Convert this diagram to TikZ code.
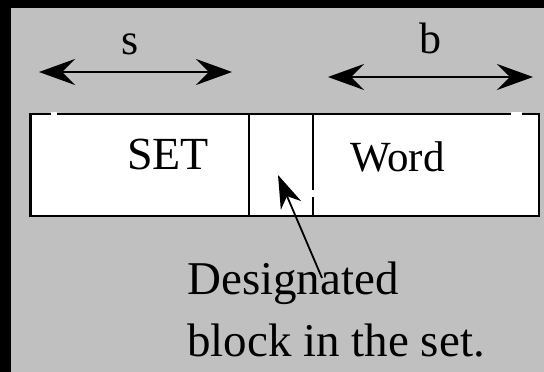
\documentclass[tikz,border=0pt]{standalone}
\usepackage{fontspec}
\setmainfont{Liberation Serif}
\usetikzlibrary{arrows.meta}
\definecolor{panel}{HTML}{C0C0C0}
\begin{document}
\begin{tikzpicture}[x=1pt,y=1pt,
  span/.style={line width=2pt,{Stealth[length=36pt,width=26pt,inset=13pt]}-{Stealth[length=36pt,width=26pt,inset=13pt]}},
  pointer/.style={line width=1.8pt,-{Stealth[length=33pt,width=22pt,inset=10pt]}},
  label/.style={inner sep=0pt,font=\fontsize{44}{50}\selectfont},
  cell/.style={inner sep=0pt,anchor=base west,font=\fontsize{46}{55}\selectfont},
  caption/.style={inner sep=0pt,anchor=base west,font=\fontsize{47}{55}\selectfont},
  notch/.style={fill=white,draw=none}]
% frame: black strips on the left and top, grey panel
\fill[black] (0,0) rectangle (544,372);
\fill[panel] (11,0) rectangle (544,364);
\useasboundingbox (0,0) rectangle (544,372);

% width arrows and their labels
\coordinate (s1) at (39,300);
\coordinate (s2) at (232,300);
\coordinate (b1) at (328,295);
\coordinate (b2) at (533,295);
\draw[span] (s1) -- (s2);
\draw[span] (b1) -- (b2);
\node[label,anchor=base] (slab) at (130,317) {s};
\node[label,anchor=base] (blab) at (430,318) {b};

% address word: SET | block | Word
\draw[fill=white,line width=2.2pt] (30.5,156.3) rectangle (539,258.3);
\draw[line width=2pt] (249,156.3) -- (249,258.3);
\draw[line width=2pt] (313,156.3) -- (313,258.3);
\fill[notch] (51,255) rectangle (57,260);
\fill[notch] (511,255) rectangle (522,260);
\fill[notch] (312,175) rectangle (317,182);
\node[cell,font=\fontsize{46}{55}\selectfont] (set) at (127,202) {SET};
\node[cell,font=\fontsize{43}{50}\selectfont] (word) at (350,200) {Word};

% caption and pointer to the designated block
\node[caption] (desc1) at (187,77) {Designated};
\node[caption] (desc2) at (187,15) {block in the set.};
\coordinate (ptail) at (322,94);
\coordinate (ptip) at (278,197);
\draw[pointer] (ptail) -- (ptip);
\end{tikzpicture}
\end{document}
